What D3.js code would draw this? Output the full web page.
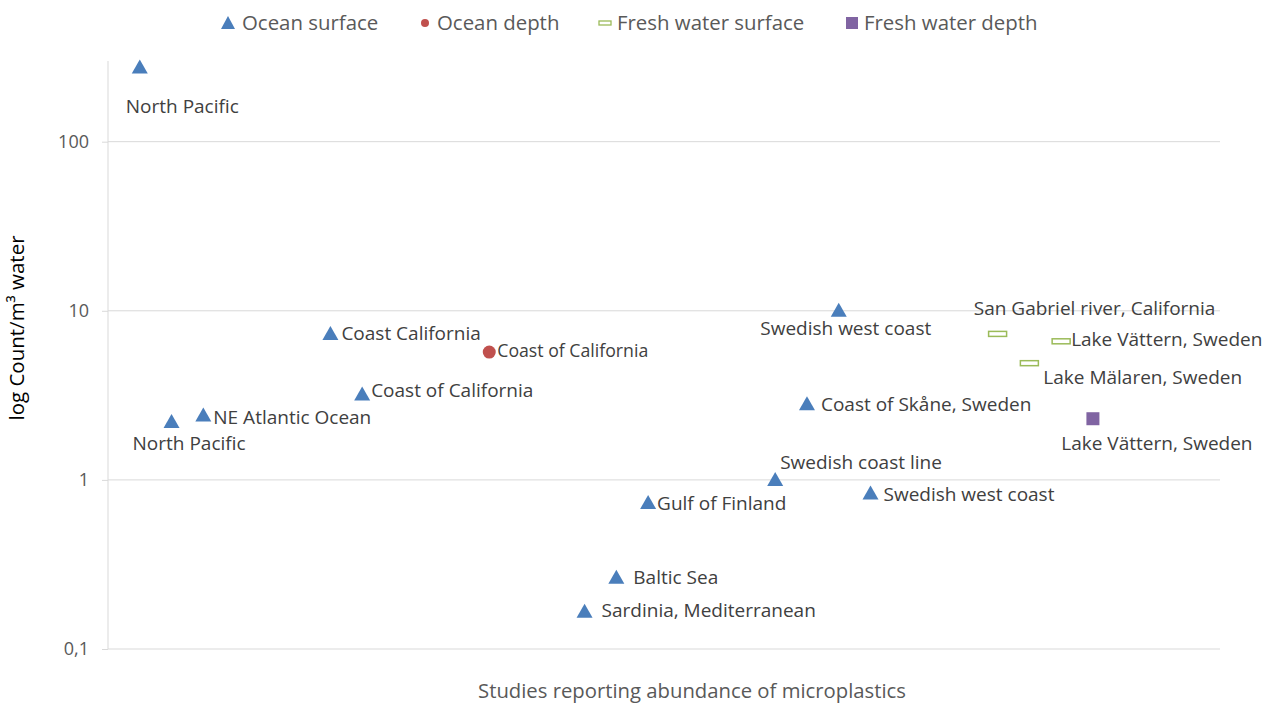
<!DOCTYPE html>
<html>
<head>
<meta charset="utf-8">
<script src="https://cdn.jsdelivr.net/npm/d3@7"></script>
<style>
  body { margin: 0; background: #fff; }
  text { font-family: "Open Sans", sans-serif; }
</style>
</head>
<body>
<div id="chart"></div>
<script>
// data: study index along x, count per m3 on log y
var seriesNames = ["Ocean surface", "Ocean depth", "Fresh water surface", "Fresh water depth"];
var studyIndex = [1, 2, 3, 7, 8, 12, 15, 16, 17, 21, 22, 23, 24, 28, 29, 30, 31];
var studySeries = [0, 0, 0, 0, 0, 1, 0, 0, 0, 0, 0, 0, 0, 2, 2, 2, 3];
var studyCount = [275, 2.2, 2.4, 7.3, 3.2, 5.7, 0.166, 0.264, 0.73, 1.0, 2.8, 10, 0.83, 7.3, 4.9, 6.6, 2.3];
var studyLabels = ["North Pacific", "North Pacific", "NE Atlantic Ocean", "Coast California",
  "Coast of California", "Coast of California", "Sardinia, Mediterranean", "Baltic Sea",
  "Gulf of Finland", "Swedish coast line", "Coast of Skåne, Sweden", "Swedish west coast",
  "Swedish west coast", "San Gabriel river, California", "Lake Mälaren, Sweden",
  "Lake Vättern, Sweden", "Lake Vättern, Sweden"];
var yTicks = [0.1, 1, 10, 100];
var yTickLabels = ["0,1", "1", "10", "100"];

// label placement (dx, dy from the marker, anchor)
var labelPlace = [
  [-14, 39, "start"], [-39, 21, "start"], [10, 2, "start"], [11, -1, "start"],
  [9, -4, "start"], [8, -1, "start"], [17, -1, "start"], [17, 0, "start"],
  [9, 0, "start"], [5, -18, "start"], [14, 0, "start"], [7, 18, "middle"],
  [13, 1, "start"], [97, -26, "middle"], [14, 14, "start"], [10, -2, "start"],
  [64, 25, "middle"]
];

var W = 1275, H = 704;
var colors = ["#4A7EBB", "#C0504D", "#9BBB59", "#8064A2"];

var svg = d3.select("#chart").append("svg")
    .attr("width", W)
    .attr("height", H);

var x = d3.scaleLinear().domain([0, 35]).range([108, 1220]);
var y = d3.scaleLog().domain([0.1, 300]).range([649, 61]);

// gridlines
svg.append("g")
  .selectAll("line")
  .data(yTicks.slice(1))
  .enter().append("line")
    .attr("x1", x(0)).attr("x2", x(35))
    .attr("y1", function(d) { return y(d); })
    .attr("y2", function(d) { return y(d); })
    .style("stroke", "#d9d9d9")
    .style("stroke-width", 1);

// bottom axis line
svg.append("line")
  .attr("x1", x(0)).attr("x2", x(35))
  .attr("y1", y(0.1)).attr("y2", y(0.1))
  .style("stroke", "#d9d9d9");

// y axis
var yAxis = svg.append("g")
  .attr("transform", "translate(" + x(0) + ",0)")
  .call(d3.axisLeft(y).tickValues(yTicks)
        .tickFormat(function(d, i) { return yTickLabels[i]; })
        .tickSize(6).tickPadding(13));
yAxis.select(".domain").style("stroke", "#d9d9d9").attr("d", "M0," + y(300) + "V" + y(0.1));
yAxis.selectAll(".tick line").style("stroke", "#d9d9d9");
yAxis.selectAll(".tick text")
  .style("font-size", "18px")
  .style("fill", "#595959")
  .style("font-family", "'Open Sans', sans-serif");

function drawMarker(g, s) {
  if (s == 0) {
    g.append("path").attr("d", "M0,-8L8,6L-8,6Z").style("fill", colors[0]);
  } else if (s == 1) {
    g.append("circle").attr("r", 6.5).style("fill", colors[1]);
  } else if (s == 2) {
    g.append("rect").attr("x", -9).attr("y", -2.5).attr("width", 18).attr("height", 5)
      .style("fill", "#fff").style("stroke", colors[2]).style("stroke-width", 1.5);
  } else {
    g.append("rect").attr("x", -6.5).attr("y", -6.5).attr("width", 13).attr("height", 13)
      .style("fill", colors[3]);
  }
}

// points
var pts = svg.append("g").selectAll("g.pt")
  .data(studyIndex)
  .enter().append("g")
    .attr("class", "pt")
    .attr("transform", function(d, i) { return "translate(" + x(d) + "," + y(studyCount[i]) + ")"; });
pts.each(function(d, i) { drawMarker(d3.select(this), studySeries[i]); });

// point labels
svg.append("g").selectAll("text")
  .data(studyIndex)
  .enter().append("text")
    .attr("x", function(d, i) { return x(d) + labelPlace[i][0]; })
    .attr("y", function(d, i) { return y(studyCount[i]) + labelPlace[i][1]; })
    .attr("dy", "0.35em")
    .style("text-anchor", function(d, i) { return labelPlace[i][2]; })
    .style("font-size", function(d, i) { return studySeries[i] == 1 ? "17.7px" : "19px"; })
    .style("fill", "#404040")
    .text(function(d, i) { return studyLabels[i]; });

// legend
var legendX = [228, 425, 605, 852];
var leg = svg.append("g").selectAll("g")
  .data(seriesNames)
  .enter().append("g")
    .attr("transform", function(d, i) { return "translate(" + legendX[i] + ",23)"; });
leg.each(function(d, i) {
  var g = d3.select(this);
  if (i == 0) g.append("path").attr("d", "M0,-7L7,6L-7,6Z").style("fill", colors[0]);
  else if (i == 1) g.append("circle").attr("r", 4).style("fill", colors[1]);
  else if (i == 2) g.append("rect").attr("x", -6).attr("y", -2).attr("width", 12).attr("height", 4)
      .style("fill", "#fff").style("stroke", colors[2]).style("stroke-width", 1.3);
  else g.append("rect").attr("x", -6).attr("y", -6).attr("width", 12).attr("height", 12).style("fill", colors[3]);
});
leg.append("text")
  .attr("x", function(d, i) { return i == 0 ? 14 : 12; })
  .attr("dy", "0.35em")
  .style("font-size", "20.4px")
  .style("fill", "#595959")
  .text(function(d) { return d; });

// axis titles
svg.append("text")
  .attr("transform", "translate(24,328) rotate(-90)")
  .style("text-anchor", "middle")
  .style("font-size", "20.5px")
  .style("fill", "#000")
  .text("log Count/m³ water");

svg.append("text")
  .attr("x", 692)
  .attr("y", 691)
  .attr("dy", "0.35em")
  .style("text-anchor", "middle")
  .style("font-size", "20.3px")
  .style("fill", "#595959")
  .text("Studies reporting abundance of microplastics");
</script>
</body>
</html>
